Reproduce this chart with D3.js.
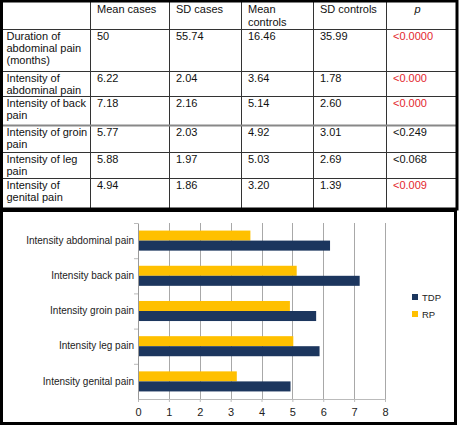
<!DOCTYPE html>
<html>
<head>
<meta charset="utf-8">
<script src="https://cdn.jsdelivr.net/npm/d3@7"></script>
<style>
  html, body { margin: 0; padding: 0; background: #fff; }
  svg { display: block; font-family: "Liberation Sans", Arial, Helvetica, sans-serif; }
</style>
</head>
<body>
<script>
// table data
const headers = ["", "Mean cases", "SD cases", "Mean\ncontrols", "SD controls", "p"];
const rowLabels = [
  "Duration of\nabdominal pain\n(months)",
  "Intensity of\nabdominal pain",
  "Intensity of back\npain",
  "Intensity of groin\npain",
  "Intensity of leg\npain",
  "Intensity of\ngenital pain"
];
const meanCases = ["50", "6.22", "7.18", "5.77", "5.88", "4.94"];
const sdCases = ["55.74", "2.04", "2.16", "2.03", "1.97", "1.86"];
const meanControls = ["16.46", "3.64", "5.14", "4.92", "5.03", "3.20"];
const sdControls = ["35.99", "1.78", "2.60", "3.01", "2.69", "1.39"];
const pValues = ["<0.0000", "<0.000", "<0.000", "<0.249", "<0.068", "<0.009"];
const pSignificant = [true, true, true, false, false, true];

// chart data
const categories = ["Intensity abdominal pain", "Intensity back pain", "Intensity groin pain",
                    "Intensity leg pain", "Intensity genital pain"];
const tdp = [6.22, 7.18, 5.77, 5.88, 4.94];
const rp = [3.64, 5.14, 4.92, 5.03, 3.20];
const seriesNames = ["RP", "TDP"];
const legendNames = ["TDP", "RP"];
const xTicks = [0, 1, 2, 3, 4, 5, 6, 7, 8];

const W = 459, H = 426;
const colors = { TDP: "#1c365e", RP: "#ffc000" };

const svg = d3.select("body").append("svg").attr("width", W).attr("height", H);

// ---------- table ----------
const colEdges = [1.5, 90, 169, 241, 313, 386, 457];
const rowEdges = [1, 29, 71, 96, 125, 152, 178, 209];
const table = svg.append("g");

table.selectAll("line.v").data(colEdges.slice(1, -1)).join("line")
  .attr("x1", d => d + 0.5).attr("x2", d => d + 0.5)
  .attr("y1", rowEdges[0]).attr("y2", rowEdges[rowEdges.length - 1])
  .attr("stroke", "#333").attr("stroke-width", 1);
table.selectAll("line.h").data(rowEdges.slice(1, -1)).join("line")
  .attr("x1", colEdges[0]).attr("x2", colEdges[colEdges.length - 1])
  .attr("y1", d => d + 0.5).attr("y2", d => d + 0.5)
  .attr("stroke", (d, i) => i === 3 ? "#888" : "#333").attr("stroke-width", (d, i) => i === 3 ? 2 : 1);
table.append("rect")
  .attr("x", colEdges[0]).attr("y", rowEdges[0])
  .attr("width", colEdges[6] - colEdges[0]).attr("height", rowEdges[7] - rowEdges[0])
  .attr("fill", "none").attr("stroke", "#000").attr("stroke-width", 3);

function cellText(x, y, txt, opts = {}) {
  const t = table.append("text")
    .attr("x", x).attr("y", y)
    .attr("font-size", 11)
    .attr("fill", opts.fill || "#111")
    .attr("text-anchor", opts.anchor || "start")
    .attr("font-style", opts.italic ? "italic" : null);
  txt.split("\n").forEach((s, i) => {
    t.append("tspan").attr("x", x).attr("dy", i === 0 ? 0 : (opts.lh || 11.8)).text(s);
  });
}

headers.forEach((h, c) => {
  if (!h) return;
  if (c === 5) cellText((colEdges[5] + colEdges[6]) / 2 - 4, rowEdges[0] + 12, h, { italic: true, anchor: "middle" });
  else cellText(colEdges[c] + 7, rowEdges[0] + 12, h, { lh: 13 });
});

const columns = [rowLabels, meanCases, sdCases, meanControls, sdControls, pValues];
rowLabels.forEach((_, r) => {
  columns.forEach((col, c) => {
    const fill = c === 5 && pSignificant[r] ? "#e3262d" : "#111";
    cellText(colEdges[c] + (c === 0 ? 5 : 7), rowEdges[r + 1] + 11, col[r], { fill });
  });
});

// ---------- chart ----------
svg.append("rect")
  .attr("x", 1.5).attr("y", 210.5).attr("width", 454).attr("height", 213)
  .attr("fill", "#fff").attr("stroke", "#000").attr("stroke-width", 3);

const x = d3.scaleLinear().domain([0, 8]).range([138, 385]);
const y0 = d3.scaleBand().domain(categories).range([223, 399]);
const bw = y0.bandwidth();
const y1 = d3.scaleBand().domain(seriesNames).range([bw * 0.215, bw * 0.785]);

const chart = svg.append("g");

// gridlines
chart.selectAll("line.grid").data(xTicks.slice(1)).join("line")
  .attr("x1", d => Math.round(x(d)) + 0.5).attr("x2", d => Math.round(x(d)) + 0.5)
  .attr("y1", 223).attr("y2", 399)
  .attr("stroke", "#a8a8a8").attr("stroke-width", 1);

// bars
const rows = categories.map((c, i) => ({ cat: c, RP: rp[i], TDP: tdp[i] }));
const groups = chart.selectAll("g.cat").data(rows).join("g")
  .attr("transform", d => `translate(0,${y0(d.cat)})`);
groups.selectAll("rect").data(d => seriesNames.map(s => ({ s, v: d[s] }))).join("rect")
  .attr("x", x(0))
  .attr("y", d => y1(d.s))
  .attr("width", d => x(d.v) - x(0))
  .attr("height", y1.bandwidth())
  .attr("fill", d => colors[d.s]);

// x axis
const xAxis = chart.append("g").attr("transform", "translate(0,399)")
  .call(d3.axisBottom(x).tickValues(xTicks).tickSize(3).tickPadding(6).tickFormat(d3.format("d")));
xAxis.select(".domain").attr("stroke", "#bbb");
xAxis.selectAll(".tick line").attr("stroke", "#bbb");
xAxis.selectAll("text").attr("font-size", 11).attr("fill", "#222").attr("font-family", null);

// y axis
const yAxis = chart.append("g").attr("transform", `translate(${x(0)},0)`)
  .call(d3.axisLeft(y0).tickSize(0).tickPadding(4));
yAxis.select(".domain").attr("stroke", "#999");
yAxis.selectAll("text").attr("font-size", 10).attr("fill", "#222").attr("font-family", null);
// band boundary ticks
chart.selectAll("line.ytick").data(y0.domain()).join("line")
  .attr("x1", x(0) - 4).attr("x2", x(0))
  .attr("y1", d => y0(d) + 0.5).attr("y2", d => y0(d) + 0.5)
  .attr("stroke", "#bbb");

// legend
const legend = chart.append("g").attr("transform", "translate(412,294)");
legendNames.forEach((n, i) => {
  legend.append("rect").attr("x", 0).attr("y", i * 17).attr("width", 6).attr("height", 6)
    .attr("fill", colors[n]);
  legend.append("text").attr("x", 10).attr("y", i * 17 + 6.5)
    .attr("font-size", 9.5).attr("fill", "#222").text(n);
});
</script>
</body>
</html>
